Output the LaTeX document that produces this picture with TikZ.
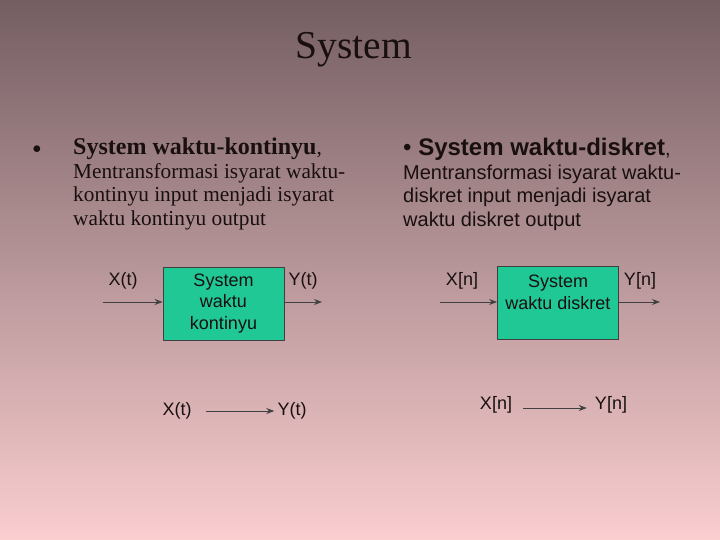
\documentclass[tikz,border=0pt]{standalone}
\usepackage{fontspec}
\setmainfont{Liberation Serif}
\newfontfamily\arialf{Liberation Sans}
\usetikzlibrary{arrows.meta}
\definecolor{bgtop}{RGB}{116,94,98}
\definecolor{bgbot}{RGB}{251,206,208}
\definecolor{boxfill}{RGB}{32,200,150}
\definecolor{txt}{RGB}{25,15,15}
\tikzset{
  sysbox/.style={draw=black!75, line width=0.8pt, fill=boxfill, minimum width=121pt, minimum height=73pt, align=center, font=\arialf\fontsize{18}{21.5}\selectfont, text=txt, inner sep=0pt},
  lbl/.style={font=\arialf\fontsize{18}{21}\selectfont, text=txt, inner sep=0pt},
  conn/.style={draw=black!75, line width=1pt, -{Stealth[length=8pt,width=6pt]}},
  para/.style={anchor=north west, align=left, inner sep=0pt, text=txt}
}
\begin{document}
\begin{tikzpicture}[x=1pt,y=-1pt]
\useasboundingbox (0,0) rectangle (720,540);
\shade[top color=bgtop, bottom color=bgbot] (0,0) rectangle (720,540);
\node[font=\fontsize{39.5}{44}\selectfont, text=txt, inner sep=0pt] (title) at (354,50) {System};
% left text
\node[font=\fontsize{19}{23.5}\selectfont, text=txt, inner sep=0pt] (bul1) at (37,150) {$\bullet$};
\node[para, font=\fontsize{21.3}{23.5}\selectfont] (ltext) at (73,138) {{\fontsize{24}{24}\selectfont\textbf{System waktu-kontinyu}}, \\ Mentransformasi isyarat waktu-\\ kontinyu input menjadi isyarat\\ waktu kontinyu output};
% right text
\node[para, font=\arialf\fontsize{20}{23.5}\selectfont] (rtext) at (403,138) {{\fontsize{24}{24}\selectfont\textbullet\ \textbf{System waktu-diskret}}, \\ Mentransformasi isyarat waktu-\\ diskret input menjadi isyarat\\ waktu diskret output};
% left system
\node[sysbox] (b1) at (223.5,303.5) {System\\ waktu\\ kontinyu};
\coordinate (in1) at (103,302);
\coordinate (out1) at (322,302);
\draw[conn] (in1) -- (in1 -| b1.west);
\draw[conn] (out1 -| b1.east) -- (out1);
\node[lbl] (x1) at (123,281) {X(t)};
\node[lbl] (y1) at (303,281) {Y(t)};
% right system
\node[sysbox] (b2) at (558,303) {System\\ waktu diskret\\[0pt] \phantom{x}};
\coordinate (in2) at (440,302);
\coordinate (out2) at (660,302);
\draw[conn] (in2) -- (in2 -| b2.west);
\draw[conn] (out2 -| b2.east) -- (out2);
\node[lbl] (x2) at (462,281) {X[n]};
\node[lbl] (y2) at (640,281) {Y[n]};
% bottom relations
\node[lbl] (x3) at (177,411) {X(t)};
\node[lbl] (y3) at (292,411) {Y(t)};
\path (x3.east) ++(14,0) coordinate (a3) (y3.west) ++(-3,0) coordinate (c3);
\draw[conn] (a3) -- (c3);
\node[lbl] (x4) at (496,405) {X[n]};
\node[lbl] (y4) at (611,405) {Y[n]};
\path (x4.east) ++(11,3) coordinate (a4) (y4.west) ++(-8,3) coordinate (c4);
\draw[conn] (a4) -- (c4);
\end{tikzpicture}
\end{document}
